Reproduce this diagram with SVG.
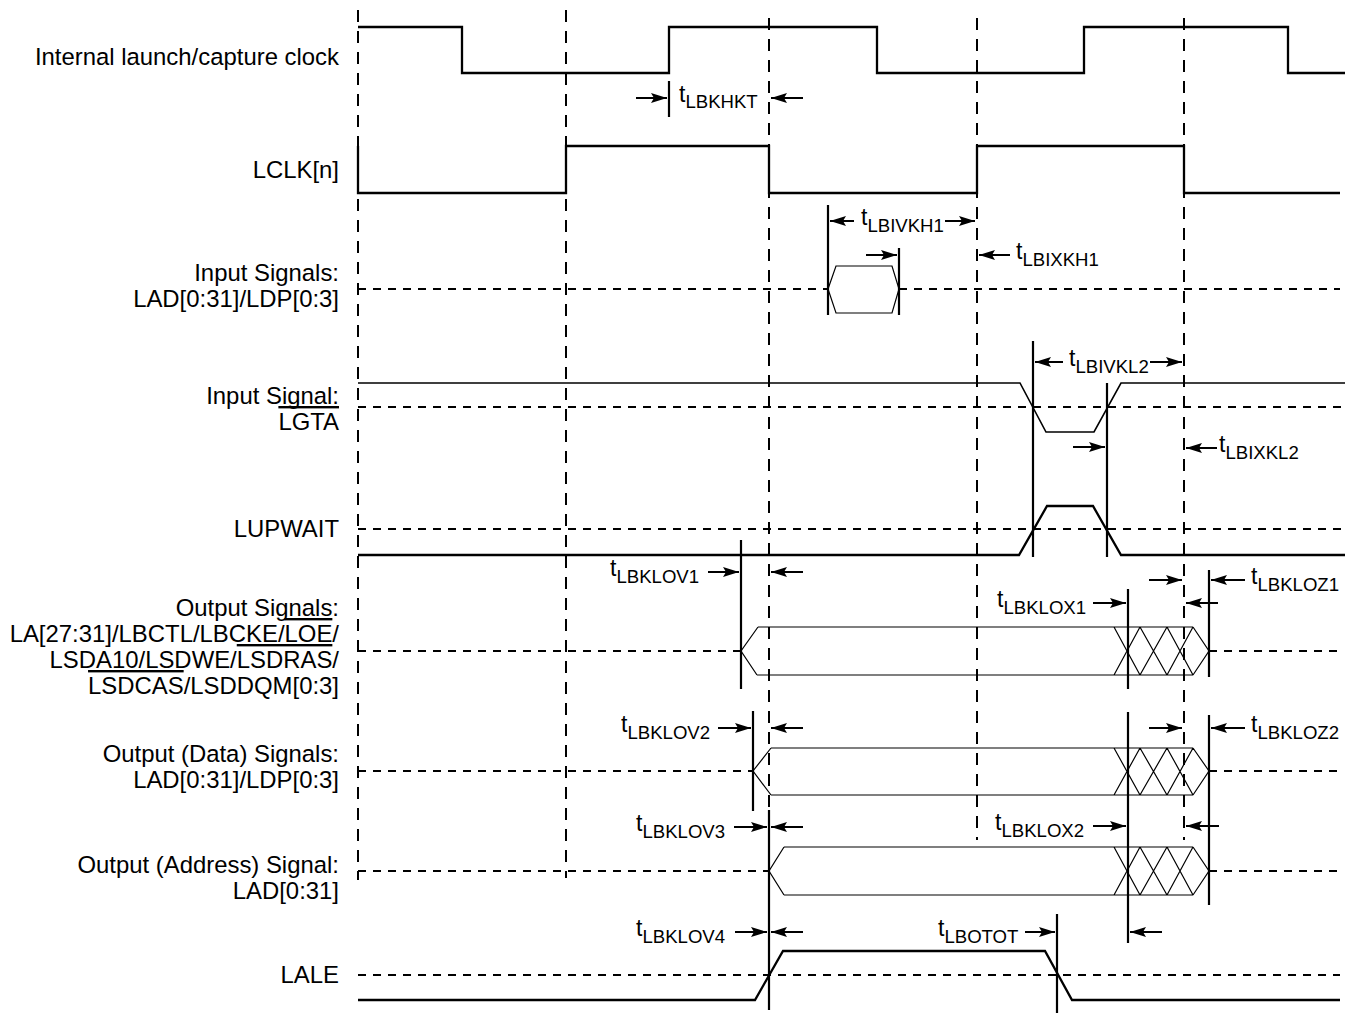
<svg xmlns="http://www.w3.org/2000/svg" width="1351" height="1013" viewBox="0 0 1351 1013">
<style>
.lbl{font-family:"Liberation Sans",Arial,Helvetica,sans-serif;font-size:23.9px;fill:#000;text-anchor:end}
.tl{font-family:"Liberation Sans",Arial,Helvetica,sans-serif;font-size:23px;fill:#000}
.sub{font-size:18.6px}
.ov{text-decoration:overline}
.w{fill:none;stroke:#000;stroke-width:2.3}
.wt{fill:none;stroke:#000;stroke-width:1.6}
.bus{fill:none;stroke:#000;stroke-width:1.2}
.vd{stroke:#000;stroke-width:2;stroke-dasharray:12 9;fill:none}
.hd{stroke:#000;stroke-width:1.8;stroke-dasharray:8 7;fill:none}
.m{stroke:#000;stroke-width:2.2;fill:none}
.a{stroke:#000;stroke-width:2;fill:none;marker-end:url(#ah)}
</style>
<defs>
<marker id="ah" viewBox="0 0 16 11" refX="16" refY="5.5" markerWidth="16" markerHeight="11" markerUnits="userSpaceOnUse" orient="auto"><path d="M0,0.5 L16,5.5 L0,10.5 L3,5.5 z" fill="#000"/></marker>
</defs>
<rect width="1351" height="1013" fill="#fff"/>

<g id="grid">
<path class="vd" d="M358,10 V880 M566,10 V878 M769,18 V810 M977,18 V840 M1184,18 V840"/>
</g>

<g id="sig-clock">
<text class="lbl" x="339" y="65">Internal launch/capture clock</text>
<path class="w" d="M358,27 H462 V73 H669 V27 H877 V73 H1084 V27 H1288 V73 H1345"/>
</g>

<g id="sig-lclk">
<text class="lbl" x="339" y="178">LCLK[n]</text>
<path class="w" d="M358,146 V193 H566 V146 H769 V193 H977 V146 H1184 V193 H1340"/>
</g>

<g id="sig-input">
<text class="lbl" x="339" y="281">Input Signals:</text>
<text class="lbl" x="339" y="307">LAD[0:31]/LDP[0:3]</text>
<path class="hd" d="M358,289 H828 M899,289 H1340"/>
<polygon class="bus" points="828,289 836,266 892,266 899,289 892,313 836,313"/>
</g>

<g id="sig-lgta">
<text class="lbl" x="339" y="404">Input Signal:</text>
<text class="lbl" x="339" y="430"><tspan class="ov">LGTA</tspan></text>
<path class="hd" d="M358,407 H1345"/>
<path class="wt" d="M358,383 H1020 L1046,432 H1094 L1121,383 H1345"/>
</g>

<g id="sig-lupwait">
<text class="lbl" x="339" y="537">LUPWAIT</text>
<path class="hd" d="M358,529 H1345"/>
<path class="w" d="M358,555 H1019 L1047,506 H1093 L1121,555 H1345"/>
</g>

<g id="sig-output">
<text class="lbl" x="339" y="616">Output Signals:</text>
<text class="lbl" x="339" y="642">LA[27:31]/LBCTL/LBCKE/<tspan class="ov">LOE</tspan>/</text>
<text class="lbl" x="339" y="668">LSDA10/LSDWE/<tspan class="ov">LSDRAS</tspan>/</text>
<text class="lbl" x="339" y="694"><tspan class="ov">LSDCAS</tspan>/LSDDQM[0:3]</text>
<path class="hd" d="M358,651 H741 M1209,651 H1340"/>
<path class="bus" d="M758,627 L741,651 L757,675 M758,627 H1193 M757,675 H1193 M1114,627 L1140,675 M1114,675 L1140,627 M1140,627 L1167,675 M1140,675 L1167,627 M1167,627 L1193,675 M1167,675 L1193,627 M1193,627 L1209,651 L1193,675"/>
</g>

<g id="sig-data">
<text class="lbl" x="339" y="762">Output (Data) Signals:</text>
<text class="lbl" x="339" y="788">LAD[0:31]/LDP[0:3]</text>
<path class="hd" d="M358,771 H753 M1209,771 H1340"/>
<path class="bus" d="M771,748 L753,771 L771,795 M771,748 H1193 M771,795 H1193 M1114,748 L1140,795 M1114,795 L1140,748 M1140,748 L1167,795 M1140,795 L1167,748 M1167,748 L1193,795 M1167,795 L1193,748 M1193,748 L1209,771 L1193,795"/>
</g>

<g id="sig-address">
<text class="lbl" x="339" y="873">Output (Address) Signal:</text>
<text class="lbl" x="339" y="899">LAD[0:31]</text>
<path class="hd" d="M358,871 H769 M1209,871 H1340"/>
<path class="bus" d="M784,847 L769,871 L784,895 M784,847 H1193 M784,895 H1193 M1114,847 L1140,895 M1114,895 L1140,847 M1140,847 L1167,895 M1140,895 L1167,847 M1167,847 L1193,895 M1167,895 L1193,847 M1193,847 L1209,871 L1193,895"/>
</g>

<g id="sig-lale">
<text class="lbl" x="339" y="983">LALE</text>
<path class="hd" d="M358,975 H1340"/>
<path class="w" d="M358,1000 H755 L783,951 H1045 L1072,1000 H1340"/>
</g>

<g id="connectors">
<path class="m" d="M669,81 V117 M828,205 V315 M899,248 V315 M1033,341 V557 M1107,383 V557 M741,540 V689 M1128,589 V689 M1209,570 V677 M753,711 V811 M1128,712 V943 M1209,715 V905 M769,810 V1010 M1057,914 V1013"/>
<line class="a" x1="636" y1="98" x2="667" y2="98"/>
<line class="a" x1="803" y1="98" x2="771" y2="98"/>
<line class="a" x1="854" y1="221" x2="830" y2="221"/>
<line class="a" x1="945" y1="221" x2="975" y2="221"/>
<line class="a" x1="866" y1="255" x2="897" y2="255"/>
<line class="a" x1="1010" y1="255" x2="979" y2="255"/>
<line class="a" x1="1063" y1="362" x2="1035" y2="362"/>
<line class="a" x1="1150" y1="362" x2="1182" y2="362"/>
<line class="a" x1="1073" y1="447" x2="1105" y2="447"/>
<line class="a" x1="1217" y1="448" x2="1186" y2="448"/>
<line class="a" x1="708" y1="572" x2="739" y2="572"/>
<line class="a" x1="803" y1="572" x2="771" y2="572"/>
<line class="a" x1="1093" y1="603" x2="1126" y2="603"/>
<line class="a" x1="1149" y1="580" x2="1182" y2="580"/>
<line class="a" x1="1245" y1="580" x2="1211" y2="580"/>
<line class="a" x1="1218" y1="603" x2="1186" y2="603"/>
<line class="a" x1="718" y1="728" x2="751" y2="728"/>
<line class="a" x1="803" y1="728" x2="771" y2="728"/>
<line class="a" x1="1149" y1="728" x2="1182" y2="728"/>
<line class="a" x1="1245" y1="728" x2="1211" y2="728"/>
<line class="a" x1="734" y1="827" x2="767" y2="827"/>
<line class="a" x1="803" y1="827" x2="771" y2="827"/>
<line class="a" x1="1093" y1="826" x2="1126" y2="826"/>
<line class="a" x1="1219" y1="826" x2="1186" y2="826"/>
<line class="a" x1="735" y1="932" x2="767" y2="932"/>
<line class="a" x1="803" y1="932" x2="771" y2="932"/>
<line class="a" x1="1025" y1="932" x2="1055" y2="932"/>
<line class="a" x1="1162" y1="932" x2="1130" y2="932"/>
</g>

<g id="timing-labels">
<text class="tl" x="679" y="102">t<tspan class="sub" dy="6">LBKHKT</tspan></text>
<text class="tl" x="861" y="225">t<tspan class="sub" dy="7">LBIVKH1</tspan></text>
<text class="tl" x="1016" y="259">t<tspan class="sub" dy="7">LBIXKH1</tspan></text>
<text class="tl" x="1069" y="366">t<tspan class="sub" dy="7">LBIVKL2</tspan></text>
<text class="tl" x="1219" y="452">t<tspan class="sub" dy="7">LBIXKL2</tspan></text>
<text class="tl" x="610" y="576">t<tspan class="sub" dy="7">LBKLOV1</tspan></text>
<text class="tl" x="997" y="607">t<tspan class="sub" dy="7">LBKLOX1</tspan></text>
<text class="tl" x="1251" y="584">t<tspan class="sub" dy="7">LBKLOZ1</tspan></text>
<text class="tl" x="621" y="732">t<tspan class="sub" dy="7">LBKLOV2</tspan></text>
<text class="tl" x="1251" y="732">t<tspan class="sub" dy="7">LBKLOZ2</tspan></text>
<text class="tl" x="636" y="831">t<tspan class="sub" dy="7">LBKLOV3</tspan></text>
<text class="tl" x="995" y="830">t<tspan class="sub" dy="7">LBKLOX2</tspan></text>
<text class="tl" x="636" y="936">t<tspan class="sub" dy="7">LBKLOV4</tspan></text>
<text class="tl" x="938" y="936">t<tspan class="sub" dy="7">LBOTOT</tspan></text>
</g>
</svg>
